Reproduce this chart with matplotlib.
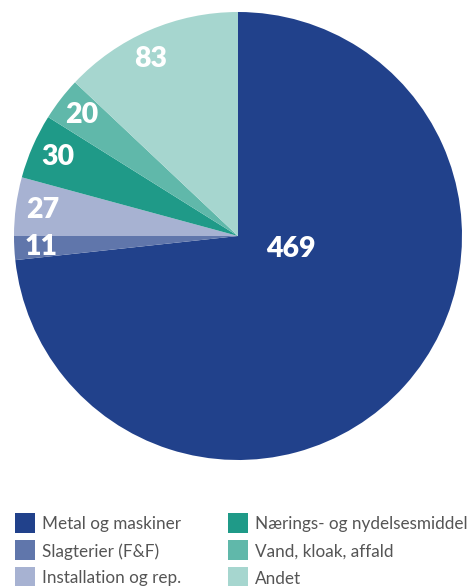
import matplotlib
matplotlib.use("Agg")
import matplotlib.pyplot as plt
import numpy as np
from matplotlib.patches import Rectangle

categories = ["Metal og maskiner", "Slagterier (F&F)", "Installation og rep.",
              "Nærings- og nydelsesmiddel", "Vand, kloak, affald", "Andet"]
values = [469, 11, 27, 30, 20, 83]
colors = ["#21418b", "#6076ab", "#a7b2d2", "#1f9a88", "#60b8aa", "#a6d6cf"]

plt.rcParams["font.family"] = ["Lato", "DejaVu Sans"]

W, H = 468, 586
fig = plt.figure(figsize=(W / 100, H / 100), dpi=100)
ax = fig.add_axes([14 / W, 1 - 460 / H, 448 / W, 448 / H])

wedges, _ = ax.pie(values, colors=colors, startangle=90, counterclock=False,
                   radius=1.0, wedgeprops=dict(linewidth=0))
ax.set_xlim(-1, 1)
ax.set_ylim(-1, 1)
ax.set_aspect("equal")

for w, v in zip(wedges, values):
    if v == max(values):
        x, y = 0.235, -0.06
    else:
        ang = np.deg2rad((w.theta1 + w.theta2) / 2 + (3 if v == 83 else 0))
        r = 0.88
        x, y = r * np.cos(ang), r * np.sin(ang)
    ax.text(x, y, str(v), color="white", fontsize=20.5, fontweight="heavy",
            ha="center", va="center")

# legend: two columns of three rows, drawn in pixel positions
col_x = [15, 228]
row_y = [523, 550, 577]
sq = 20
for i, (name, c) in enumerate(zip(categories, colors)):
    cx = col_x[i // 3]
    cy = row_y[i % 3]
    fig.patches.append(Rectangle((cx / W, 1 - (cy + sq / 2) / H), sq / W, sq / H,
                                 transform=fig.transFigure, facecolor=c,
                                 edgecolor="none"))
    fig.text((cx + 27) / W, 1 - cy / H, name, color="#555555", fontsize=12.3,
             ha="left", va="center_baseline")

fig.savefig("out.png", dpi=100)
